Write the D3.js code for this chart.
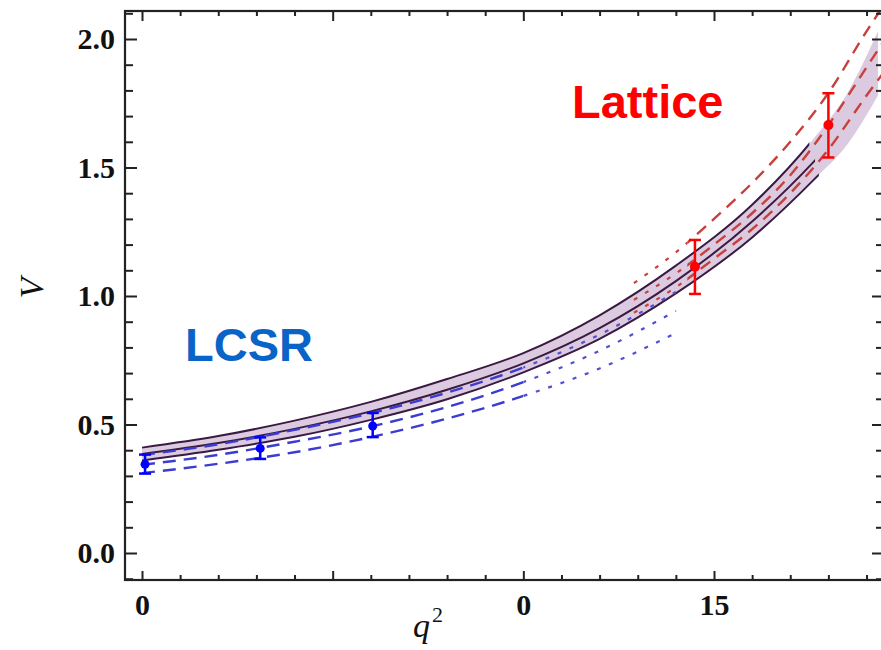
<!DOCTYPE html>
<html>
<head>
<meta charset="utf-8">
<script src="https://cdn.jsdelivr.net/npm/d3@7"></script>
<style>
  body { margin: 0; background: #fff; }
  svg { display: block; }
</style>
</head>
<body>
<div id="chart"></div>
<script>
// combined LCSR + lattice fit (band edges and central line)
const bandQ   = [0, 2, 4, 6, 8, 10, 12, 14, 16, 17.6, 18.5, 19.3];
const bandHi  = [0.410, 0.455, 0.515, 0.588, 0.677, 0.778, 0.925, 1.118, 1.355, 1.61, 1.79, 2.03];
const bandMid = [0.385, 0.428, 0.483, 0.551, 0.635, 0.738, 0.875, 1.058, 1.290, 1.52, 1.67, 1.88];
const bandLo  = [0.360, 0.402, 0.452, 0.518, 0.598, 0.703, 0.833, 1.010, 1.228, 1.45, 1.59, 1.78];
const bandLineEnd = [17.5, 17.65, 17.75];

// LCSR-only fit
const blueQ   = [0, 2, 4, 6, 8, 10, 12, 14];
const blueHi  = [0.381, 0.423, 0.479, 0.544, 0.624, 0.722, 0.850, 1.016];
const blueMid = [0.343, 0.382, 0.433, 0.492, 0.568, 0.665, 0.787, 0.942];
const blueLo  = [0.311, 0.347, 0.392, 0.451, 0.523, 0.611, 0.718, 0.856];
const blueDashEnd = 10;

// lattice-only fit
const redQ   = [12.9, 14, 15, 16, 17, 18, 19, 19.4];
const redHi  = [1.05, 1.17, 1.30, 1.44, 1.60, 1.79, 2.03, 2.12];
const redMid = [0.985, 1.088, 1.20, 1.322, 1.47, 1.665, 1.89, 1.98];
const redLo  = [0.935, 1.034, 1.145, 1.26, 1.40, 1.57, 1.78, 1.86];
const redDotEnd = 14.3;

// data points
const lcsrQ  = [0.08, 3.1, 6.05];
const lcsrV  = [0.345, 0.407, 0.494];
const lcsrLo = [0.309, 0.366, 0.451];
const lcsrHi = [0.383, 0.450, 0.545];

const latQ  = [14.5, 18.0];
const latV  = [1.114, 1.665];
const latLo = [1.008, 1.539];
const latHi = [1.218, 1.789];

// axes
const xMajor = [0, 5, 10, 15];
const xMajorLabels = ["0", "", "0", "15"];
const xMinor = d3.range(1, 20).filter(d => d % 5 !== 0);
const yMajor = [0, 0.5, 1.0, 1.5, 2.0];
const yMinor = d3.range(-1, 22).map(d => d / 10).filter(d => Math.round(d * 10) % 5 !== 0);

const width = 881, height = 650;
const frame = { left: 125, right: 884, top: 11, bottom: 580 };

const x = d3.scaleLinear().domain([0, 15]).range([142, 714]);
const y = d3.scaleLinear().domain([0, 2]).range([553, 39]);

const svg = d3.select("#chart").append("svg")
    .attr("width", width)
    .attr("height", height)
    .style("background", "#fff");

const defs = svg.append("defs");
function clipX(id, q0, q1) {
    defs.append("clipPath").attr("id", id)
        .append("rect")
        .attr("x", x(q0)).attr("y", frame.top)
        .attr("width", x(q1) - x(q0))
        .attr("height", frame.bottom - frame.top);
}
clipX("clip-frame", x.invert(frame.left), x.invert(frame.right));
bandLineEnd.forEach((e, i) => clipX("clip-band-" + i, -1, e));
clipX("clip-blue-dash", -1, blueDashEnd);
clipX("clip-blue-dot", blueDashEnd, 25);
clipX("clip-red-dot", 10, redDotEnd);
clipX("clip-red-dash", redDotEnd, 25);

const plot = svg.append("g").attr("clip-path", "url(#clip-frame)");

const curve = d3.curveMonotoneX;
const lineOf = (qs, vs) => d3.line().curve(curve)
    .x((d, i) => x(qs[i])).y(d => y(d))(vs);

// band fill
plot.append("path")
    .attr("d", d3.area().curve(curve)
        .x((d, i) => x(bandQ[i]))
        .y0((d, i) => y(bandLo[i]))
        .y1(d => y(d))(bandHi))
    .attr("fill", "#dccbe0");

// band lines
[bandHi, bandMid, bandLo].forEach((vs, i) => {
    plot.append("g").attr("clip-path", `url(#clip-band-${i})`)
        .append("path")
        .attr("d", lineOf(bandQ, vs))
        .attr("fill", "none")
        .attr("stroke", "#3a1a40")
        .attr("stroke-width", 2);
});

// LCSR fit lines
[blueHi, blueMid, blueLo].forEach(vs => {
    plot.append("g").attr("clip-path", "url(#clip-blue-dash)")
        .append("path")
        .attr("d", lineOf(blueQ, vs))
        .attr("fill", "none")
        .attr("stroke", "#3c3cd0")
        .attr("stroke-width", 2.4)
        .attr("stroke-dasharray", "13,8");
    plot.append("g").attr("clip-path", "url(#clip-blue-dot)")
        .append("path")
        .attr("d", lineOf(blueQ, vs))
        .attr("fill", "none")
        .attr("stroke", "#5050d0")
        .attr("stroke-width", 2.2)
        .attr("stroke-dasharray", "4,9");
});

// lattice fit lines
[redHi, redMid, redLo].forEach(vs => {
    plot.append("g").attr("clip-path", "url(#clip-red-dot)")
        .append("path")
        .attr("d", lineOf(redQ, vs))
        .attr("fill", "none")
        .attr("stroke", "#c8403c")
        .attr("stroke-width", 2.2)
        .attr("stroke-dasharray", "4,9");
    plot.append("g").attr("clip-path", "url(#clip-red-dash)")
        .append("path")
        .attr("d", lineOf(redQ, vs))
        .attr("fill", "none")
        .attr("stroke", "#c8403c")
        .attr("stroke-width", 2.4)
        .attr("stroke-dasharray", "12,8");
});

// error bars and points
function drawPoints(qs, vs, lo, hi, color, r) {
    const g = plot.append("g").attr("stroke", color).attr("stroke-width", 2.5);
    qs.forEach((q, i) => {
        g.append("line").attr("x1", x(q)).attr("x2", x(q)).attr("y1", y(lo[i])).attr("y2", y(hi[i]));
        g.append("line").attr("x1", x(q) - 6).attr("x2", x(q) + 6).attr("y1", y(lo[i])).attr("y2", y(lo[i]));
        g.append("line").attr("x1", x(q) - 6).attr("x2", x(q) + 6).attr("y1", y(hi[i])).attr("y2", y(hi[i]));
    });
    plot.append("g").selectAll("circle")
        .data(vs)
        .enter()
        .append("circle")
        .attr("cx", (d, i) => x(qs[i]))
        .attr("cy", d => y(d))
        .attr("r", r)
        .attr("fill", color);
}
drawPoints(lcsrQ, lcsrV, lcsrLo, lcsrHi, "#0000ff", 4.5);
drawPoints(latQ, latV, latLo, latHi, "#ff0000", 5);

// axes
const tickFont = g => g.selectAll("text")
    .attr("font-family", "'Liberation Serif', 'DejaVu Serif', serif")
    .attr("font-weight", "bold")
    .attr("font-size", "30px")
    .attr("fill", "#111");
const tickStyle = g => {
    g.select(".domain").remove();
    g.selectAll("line").attr("stroke", "#222").attr("stroke-width", 2);
};

svg.append("g")
    .attr("transform", `translate(${frame.left},0)`)
    .call(d3.axisLeft(y).tickValues(yMajor).tickSize(-12).tickPadding(10).tickFormat(d3.format(".1f")))
    .call(tickStyle).call(tickFont);
svg.append("g")
    .attr("transform", `translate(${frame.left},0)`)
    .call(d3.axisLeft(y).tickValues(yMinor).tickSize(-8).tickFormat(""))
    .call(tickStyle);
svg.append("g")
    .attr("transform", `translate(${frame.right},0)`)
    .call(d3.axisRight(y).tickValues(yMajor).tickSize(-12).tickFormat(""))
    .call(tickStyle);
svg.append("g")
    .attr("transform", `translate(${frame.right},0)`)
    .call(d3.axisRight(y).tickValues(yMinor).tickSize(-8).tickFormat(""))
    .call(tickStyle);

svg.append("g")
    .attr("transform", `translate(0,${frame.bottom})`)
    .call(d3.axisBottom(x).tickValues(xMajor).tickSize(-9).tickPadding(14)
        .tickFormat((d, i) => xMajorLabels[i]))
    .call(tickStyle).call(tickFont);
svg.append("g")
    .attr("transform", `translate(0,${frame.bottom})`)
    .call(d3.axisBottom(x).tickValues(xMinor).tickSize(-5).tickFormat(""))
    .call(tickStyle);
svg.append("g")
    .attr("transform", `translate(0,${frame.top})`)
    .call(d3.axisTop(x).tickValues(xMajor).tickSize(-10).tickFormat(""))
    .call(tickStyle);
svg.append("g")
    .attr("transform", `translate(0,${frame.top})`)
    .call(d3.axisTop(x).tickValues(xMinor).tickSize(-5).tickFormat(""))
    .call(tickStyle);

// frame
svg.append("rect")
    .attr("x", frame.left).attr("y", frame.top)
    .attr("width", frame.right - frame.left)
    .attr("height", frame.bottom - frame.top)
    .attr("fill", "none")
    .attr("stroke", "#222")
    .attr("stroke-width", 2.2);

// axis titles
svg.append("text")
    .attr("transform", "translate(43,288) rotate(-90)")
    .attr("text-anchor", "middle")
    .attr("font-family", "'Liberation Serif', serif")
    .attr("font-style", "italic")
    .attr("font-size", "34px")
    .attr("fill", "#111")
    .text("V");

const qLabel = svg.append("text")
    .attr("x", 428).attr("y", 637)
    .attr("text-anchor", "middle")
    .attr("font-family", "'Liberation Serif', serif")
    .attr("font-style", "italic")
    .attr("font-size", "34px")
    .attr("fill", "#111");
qLabel.append("tspan").text("q");
qLabel.append("tspan").attr("font-size", "22px").attr("font-style", "normal")
    .attr("dy", -15).attr("dx", 2).text("2");

// annotations
svg.append("text")
    .attr("x", 572).attr("y", 118)
    .attr("font-family", "Arial, 'Liberation Sans', sans-serif")
    .attr("font-weight", "bold")
    .attr("font-size", "47px")
    .attr("fill", "#ff0000")
    .text("Lattice");

svg.append("text")
    .attr("x", 185).attr("y", 361)
    .attr("font-family", "Arial, 'Liberation Sans', sans-serif")
    .attr("font-weight", "bold")
    .attr("font-size", "47px")
    .attr("fill", "#0a64c8")
    .text("LCSR");
</script>
</body>
</html>
